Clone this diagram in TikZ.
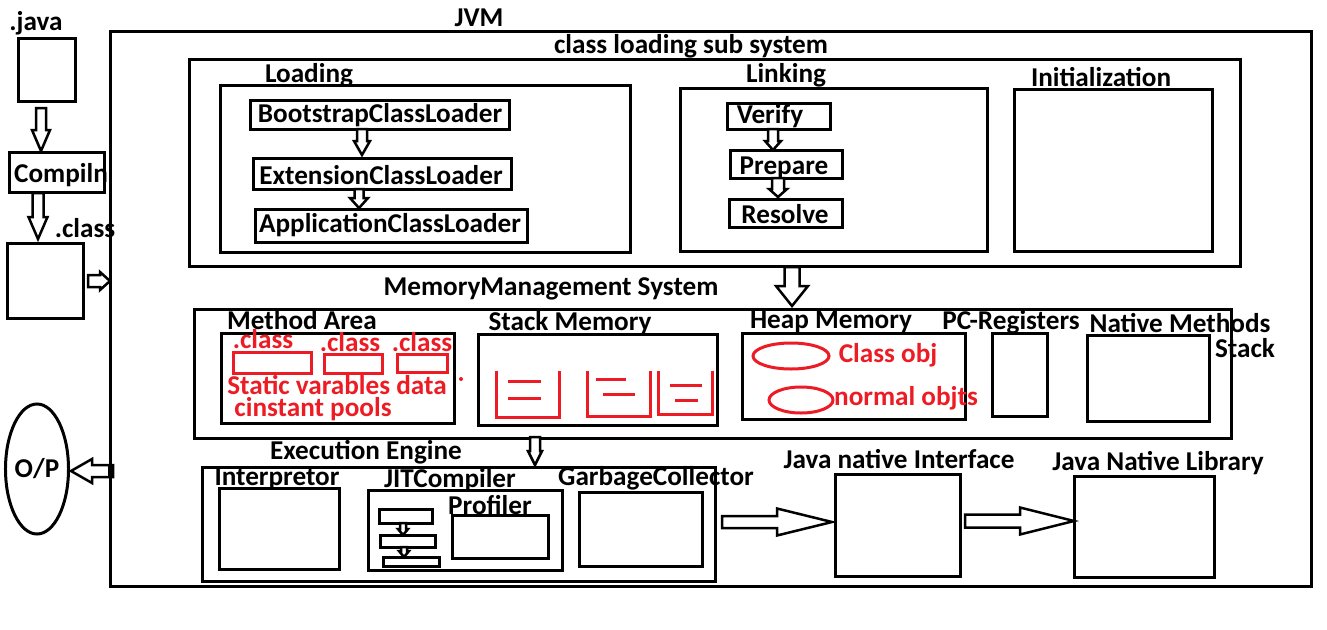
\documentclass[tikz,border=0pt]{standalone}
\usepackage{fontspec}
\setmainfont{Carlito}
\usetikzlibrary{fit,shapes.geometric}
\definecolor{pred}{RGB}{237,28,36}
\tikzset{
  box/.style={draw, line width=3pt, inner sep=0pt, rectangle},
  rbox/.style={draw=pred, line width=3pt, inner sep=0pt, rectangle},
  lbl/.style={font=\fontsize{27.2}{29}\selectfont\bfseries, inner sep=0pt},
  rlbl/.style={lbl, text=pred},
  blk/.style={draw, line width=2.5pt, fill=white, line join=miter},
  rline/.style={draw=pred, line width=3pt},
}
\newcommand{\BAdown}[6]{\draw[blk] ({#1-#4},#2) -- ({#1+#4},#2) -- ({#1+#4},{#3-#6}) -- ({#1+#5},{#3-#6}) -- (#1,#3) -- ({#1-#5},{#3-#6}) -- ({#1-#4},{#3-#6}) -- cycle;}
\newcommand{\BAright}[6]{\draw[blk] (#2,{#1-#4}) -- ({#3-#6},{#1-#4}) -- ({#3-#6},{#1-#5}) -- (#3,#1) -- ({#3-#6},{#1+#5}) -- ({#3-#6},{#1+#4}) -- (#2,{#1+#4}) -- cycle;}
\newcommand{\BAleft}[6]{\draw[blk] (#2,{#1-#4}) -- ({#3+#6},{#1-#4}) -- ({#3+#6},{#1-#5}) -- (#3,#1) -- ({#3+#6},{#1+#5}) -- ({#3+#6},{#1+#4}) -- (#2,{#1+#4}) -- cycle;}
\begin{document}
\begin{tikzpicture}[x=1pt,y=-1pt]
\useasboundingbox[fill=white] (0,0) rectangle (1327,629);

% ---------- left column ----------
\node[lbl] (tjava) at (36,23) {.java};
\node[box, fit={(18,38)(75,101)}] (javabox) {};
\node[box, fit={(9,152)(104,192)}] (compbox) {};
\node[lbl] (tcomp) at (61,175) {Compiln};
\node[lbl] (tclass) at (85,228) {.class};
\node[box, fit={(7,243)(83,318)}] (classbox) {};
\node[lbl, draw, ellipse, line width=3pt, minimum width=62pt, minimum height=130pt] (op) at (37,469) {O/P};

% ---------- JVM ----------
\node[box, fit={(110,31)(1311,586)}] (jvm) {};
\node[lbl] (tjvm) at (479,18) {JVM};

% class loading sub system
\node[lbl] (tcls) at (691,46) {class loading sub system};
\node[box, fit={(189,59)(1240,266)}] (cls) {};
\node[lbl] (tload) at (309,75) {Loading};
\node[box, fit={(220,85)(630,252)}] (load) {};
\node[box, fit={(250,100)(509,129)}] (boot) {};
\node[lbl] (tboot) at (380,115) {BootstrapClassLoader};
\node[box, fit={(253,158)(511,189)}] (ext) {};
\node[lbl] (text) at (381,175) {ExtensionClassLoader};
\node[box, fit={(255,209)(527,242)}] (app) {};
\node[lbl] (tapp) at (390,225) {ApplicationClassLoader};

\node[lbl] (tlink) at (786,75) {Linking};
\node[box, fit={(680,88)(987,251)}] (link) {};
\node[box, fit={(727,103)(830,129)}] (verify) {};
\node[lbl] (tverify) at (770,116) {Verify};
\node[box, fit={(730,150)(842,178)}] (prep) {};
\node[lbl] (tprep) at (784,168) {Prepare};
\node[box, fit={(729,199)(842,227)}] (resolve) {};
\node[lbl] (tresolve) at (785,214) {Resolve};

\node[lbl] (tinit) at (1101,77) {Initialization};
\node[box, fit={(1014,89)(1212,251)}] (init) {};

% memory management
\node[lbl] (tmem) at (551,289) {MemoryManagement System};
\node[box, fit={(194,309)(1231,438)}] (mem) {};
\node[lbl] (tmeth) at (302,320) {Method Area};
\node[box, fit={(221,333)(454,423)}] (meth) {};
\node[rlbl] (rc1) at (263,339) {.class};
\node[rlbl] (rc2) at (350,342) {.class};
\node[rlbl] (rc3) at (422,342) {.class};
\node[rbox, fit={(233,352)(311,373)}] (r1) {};
\node[rbox, fit={(324,354)(382,373)}] (r2) {};
\node[rbox, fit={(397,354)(447,372)}] (r3) {};
\node[rlbl] (rstat) at (337,385) {Static varables data};
\node[rlbl] (rpool) at (313,409) {cinstant pools};
\fill[pred] (461,379) circle (2);

\node[lbl] (tstack) at (570,323) {Stack Memory};
\node[box, fit={(478,334)(717,425)}] (stackm) {};
\draw[rline] (496,371) -- (496,417) -- (559,417) -- (559,371);
\draw[rline] (508,381) -- (541,381) (508,398) -- (541,398);
\draw[rline] (587,371) -- (587,416) -- (650,416) -- (650,371);
\draw[rline] (596,379) -- (626,379) (603,394) -- (635,394);
\draw[rline] (658,371) -- (658,414) -- (712,414) -- (712,371);
\draw[rline] (670,385) -- (702,385) (675,400) -- (698,400);

\node[lbl] (theap) at (831,322) {Heap Memory};
\node[box, fit={(742,333)(965,419)}] (heap) {};
\draw[rline] (791,356) ellipse [x radius=38, y radius=13];
\node[rlbl] (rcobj) at (888,355) {Class obj};
\draw[rline] (801,400) ellipse [x radius=32, y radius=13];
\node[rlbl] (rnobj) at (906,398) {normal objts};

\node[lbl] (tpc) at (1011,322) {PC-Registers};
\node[box, fit={(992,333)(1047,416)}] (pc) {};
\node[box, fit={(1087,335)(1209,421)}] (native) {};
\node[lbl] (tnat) at (1180,323) {Native Methods};
\node[lbl] (tnat2) at (1245,348) {Stack};

% execution engine
\node[lbl] (tee) at (366,452) {Execution Engine};
\node[box, fit={(202,467)(715,581)}] (ee) {};
\node[box, fit={(219,488)(339,569)}] (interp) {};
\node[lbl] (tinterp) at (277,479) {Interpretor};
\node[box, fit={(368,490)(562,570)}] (jit) {};
\node[lbl] (tjit) at (450,480) {JITCompiler};
\node[box, fit={(452,515)(548,558)}] (prof) {};
\node[lbl] (tprof) at (490,505) {Profiler};
\node[box, fit={(379,509)(432,523)}] (b1) {};
\node[box, fit={(380,535)(435,547)}] (b2) {};
\node[box, fit={(383,557)(439,566)}] (b3) {};
\node[box, fit={(579,492)(702,566)}] (gc) {};
\node[lbl] (tgc) at (656,478) {GarbageCollector};

\node[box, fit={(835,474)(960,576)}] (jni) {};
\node[lbl] (tjni) at (899,459) {Java native Interface};
\node[box, fit={(1074,476)(1214,577)}] (jnl) {};
\node[lbl] (tjnl) at (1158,463) {Java Native Library};

% ---------- block arrows ----------
\BAdown{41}{108}{151}{5}{9}{21}
\BAdown{38}{193}{239}{5.5}{9.5}{22}
\BAright{281}{88}{110}{6}{9}{10}
\BAdown{362}{129}{155}{5}{8}{14}
\BAdown{359}{189}{208}{4.5}{9}{10}
\BAdown{773}{129}{150}{5}{8}{9}
\BAdown{778}{178}{197}{6}{9}{8}
\BAdown{792}{267}{306}{7.5}{16}{20}
\BAdown{535}{437}{465}{5}{7}{14}
\BAdown{403}{523}{535}{3}{5}{6}
\BAdown{404}{547}{557}{3}{5}{6}
\BAright{522}{722}{832}{6}{13.5}{55}
\BAright{521}{965}{1074}{6.5}{13.5}{54}
\BAleft{471}{113}{71}{6}{12}{21}
\fill (108,465) rectangle (114,477);
\end{tikzpicture}
\end{document}
